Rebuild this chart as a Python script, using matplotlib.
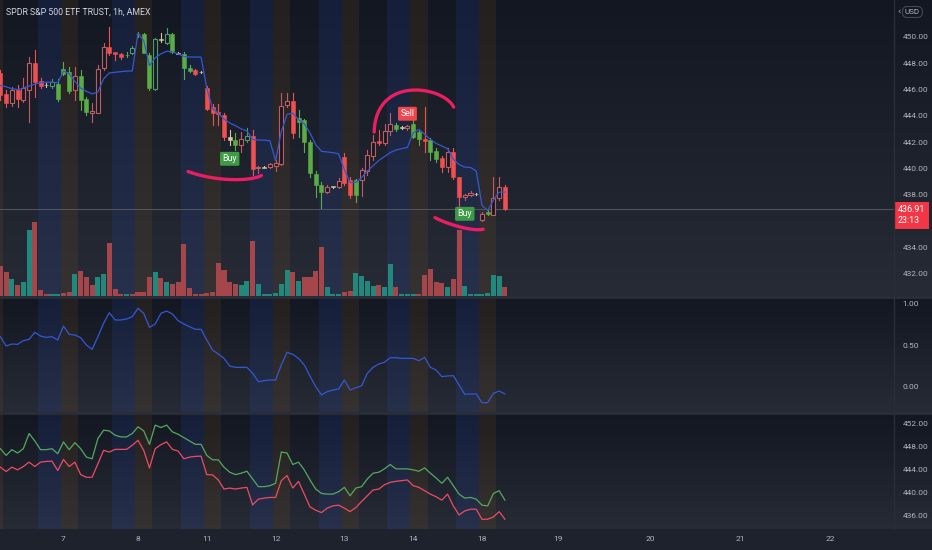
import numpy as np
import matplotlib
matplotlib.use('Agg')
import matplotlib.pyplot as plt
import matplotlib.transforms as mtransforms
from matplotlib.colors import LinearSegmentedColormap
from matplotlib.patches import Rectangle

# ---- data ----
title = 'SPDR S&P 500 ETF TRUST, 1h, AMEX'

opens = [447.22, 445.63, 444.94, 445.95, 445.19, 445.95, 448.03, 446.64, 446.36, 446.26,
         446.41, 447.52, 447.34, 445.95, 446.99, 445.25, 444.23, 444.23, 447.60, 449.24,
         448.82, 448.66, 448.64, 448.74, 450.22, 450.18, 448.61, 446.00, 449.82, 449.54,
         450.18, 448.77, 448.66, 447.65, 447.47, 447.34, 446.13, 444.68, 444.26, 444.05,
         442.41, 442.16, 441.78, 442.16, 442.46, 440.00, 440.10, 440.08, 440.18, 440.33,
         444.81, 445.14, 443.80, 443.67, 442.03, 439.57, 438.74, 438.23, 438.63, 438.61,
         440.84, 439.12, 439.12, 439.12, 439.83, 440.94, 442.05, 441.95, 442.86, 443.29,
         443.11, 443.04, 443.37, 442.79, 442.20, 442.16, 441.34, 440.77, 440.08, 441.27,
         439.32, 437.81, 437.98, 438.08, 436.08, 436.71, 436.46, 437.73, 438.56]
highs = [447.47, 445.95, 446.16, 446.33, 446.84, 448.48, 448.99, 446.86, 446.48, 446.78,
         446.80, 448.10, 447.72, 447.72, 447.47, 445.42, 444.94, 447.85, 449.50, 450.71,
         448.86, 448.76, 448.86, 449.29, 450.38, 450.30, 448.76, 449.88, 450.26, 450.64,
         450.26, 448.84, 448.84, 447.85, 447.55, 447.40, 446.26, 444.89, 444.89, 444.20,
         442.92, 442.70, 442.77, 443.07, 442.92, 440.21, 440.18, 440.40, 440.63, 445.70,
         445.70, 445.70, 444.43, 443.75, 442.16, 439.82, 438.99, 438.74, 438.70, 439.27,
         441.19, 439.37, 439.22, 440.05, 441.40, 442.54, 442.92, 443.37, 444.20, 443.45,
         443.22, 443.30, 443.73, 442.92, 444.68, 442.31, 441.55, 440.95, 441.53, 441.55,
         439.37, 438.06, 438.26, 438.14, 436.71, 436.86, 439.37, 439.37, 438.74]
lows = [445.19, 444.68, 444.74, 444.68, 445.04, 443.55, 445.44, 446.10, 446.18, 446.10,
        445.10, 447.09, 445.70, 445.19, 444.43, 444.05, 443.55, 444.20, 447.47, 448.61,
        448.23, 448.28, 448.48, 448.69, 450.00, 448.76, 445.95, 445.95, 449.62, 449.45,
        448.79, 448.69, 446.77, 447.32, 447.09, 447.24, 444.43, 443.30, 443.30, 442.16,
        441.78, 441.40, 441.27, 442.00, 439.50, 439.63, 440.02, 440.00, 439.80, 440.26,
        444.68, 442.29, 442.41, 441.27, 439.38, 437.83, 436.97, 438.10, 438.55, 438.50,
        438.74, 437.73, 437.47, 437.87, 439.50, 440.64, 441.78, 441.78, 442.54, 442.84,
        442.97, 442.95, 442.29, 441.78, 441.27, 440.64, 440.50, 439.75, 439.75, 439.17,
        436.97, 437.60, 437.90, 438.00, 436.03, 436.46, 436.46, 437.60, 436.84]
closes = [445.57, 444.99, 445.95, 445.25, 446.08, 448.03, 446.58, 446.26, 446.30, 446.58,
          445.25, 447.17, 445.90, 446.99, 445.19, 444.31, 444.36, 447.52, 449.24, 448.74,
          448.72, 448.48, 448.58, 449.16, 450.17, 448.79, 446.08, 449.80, 449.78, 450.18,
          448.86, 448.72, 447.60, 447.40, 447.14, 447.30, 444.49, 444.23, 444.11, 442.36,
          442.16, 441.78, 442.21, 442.46, 439.93, 440.13, 440.06, 440.31, 440.43, 444.74,
          445.14, 442.67, 443.55, 442.03, 439.63, 438.74, 438.23, 438.61, 438.59, 439.07,
          438.91, 437.98, 437.98, 439.88, 441.02, 442.03, 441.92, 442.86, 443.37, 442.97,
          443.07, 443.24, 442.41, 442.21, 442.10, 441.27, 440.71, 440.08, 441.27, 439.32,
          437.81, 437.98, 438.16, 438.04, 436.51, 436.51, 437.73, 438.56, 436.91]
# G green filled, R red filled, h hollow red, t hollow green, b neutral
styles = ('RRhRhhRRbt' 'GGGhGGhhhR' 'RRGtGGGtbt' 'GbGGRbRRRR' 'bGhtRhbhhh'
          'hRGGGGGhbh' 'RRGhhhRhhG' 'bhGGRGGRhR' 'RhhbhGhhR')

volumes = [3.0, 2.4, 1.7, 1.1, 1.4, 6.6, 7.4, 0.6, 0.2, 0.2,
           0.2, 0.3, 0.4, 2.2, 2.5, 1.9, 1.1, 1.9, 2.2, 5.3,
           0.7, 0.2, 0.2, 0.2, 0.4, 0.4, 1.9, 2.4, 1.8, 1.4,
           1.2, 1.4, 5.2, 0.8, 0.2, 0.2, 0.3, 0.4, 3.3, 2.6,
           1.4, 1.2, 1.1, 1.5, 5.5, 1.2, 0.2, 0.2, 0.3, 1.2,
           2.6, 2.4, 1.5, 1.9, 1.9, 2.5, 4.9, 0.9, 0.2, 0.2,
           0.4, 0.5, 2.3, 2.0, 1.5, 1.0, 1.1, 0.9, 3.2, 0.9,
           0.2, 0.2, 0.2, 0.2, 2.1, 2.7, 1.4, 1.3, 0.9, 1.7,
           6.6, 1.0, 0.2, 0.2, 0.2, 0.3, 2.1, 2.0, 0.9]
# t = up volume, r = down volume
vol_dir = ('rrtrttrrrt' 'trrtrrrttr' 'rrtrrrrtrt' 'rrrrrrrrrr' 'rrttrttttt'
           'trtrrrrttt' 'rrttttrttr' 'tttrrrrrtr' 'rtttttttr')

trail = [446.30, 446.20, 446.05, 445.99, 446.10, 446.25, 446.40, 446.50, 446.55, 446.55,
         446.50, 447.40, 447.20, 446.60, 446.10, 445.85, 445.66, 445.80, 446.80, 447.25,
         447.30, 447.35, 447.39, 447.40, 450.25, 449.70, 447.80, 448.40, 448.70, 448.90,
         448.85, 448.70, 448.50, 448.46, 448.46, 448.46, 446.10, 444.55, 444.20, 443.75,
         443.45, 443.25, 443.00, 442.84, 442.20, 442.15, 442.15, 442.10, 440.60, 442.80,
         444.10, 444.20, 443.70, 443.40, 442.70, 441.80, 441.30, 441.25, 441.20, 441.10,
         439.90, 438.93, 438.93, 439.30, 439.80, 440.20, 440.60, 440.90, 441.20, 441.40,
         441.50, 441.60, 442.70, 442.95, 442.60, 442.20, 441.90, 441.70, 441.50, 440.70,
         440.30, 440.10, 440.07, 439.80, 437.20, 436.80, 437.60, 438.20, 438.20]

osc = [0.599, 0.488, 0.512, 0.508, 0.552, 0.567, 0.651, 0.607, 0.591, 0.599,
       0.560, 0.726, 0.627, 0.619, 0.587, 0.500, 0.448, 0.599, 0.758, 0.885,
       0.798, 0.798, 0.810, 0.837, 0.937, 0.877, 0.710, 0.750, 0.877, 0.905,
       0.869, 0.790, 0.750, 0.718, 0.687, 0.687, 0.560, 0.440, 0.393, 0.341,
       0.250, 0.234, 0.234, 0.234, 0.163, 0.063, 0.075, 0.083, 0.083, 0.262,
       0.413, 0.389, 0.341, 0.262, 0.131, 0.004, -0.095, -0.056, -0.036, -0.024,
       0.083, -0.036, -0.008, 0.012, 0.163, 0.234, 0.274, 0.294, 0.349, 0.349,
       0.341, 0.341, 0.341, 0.313, 0.353, 0.234, 0.202, 0.123, 0.131, 0.135,
       0.024, -0.087, -0.083, -0.083, -0.187, -0.187, -0.075, -0.048, -0.083]

upper = [447.59, 446.43, 447.42, 446.84, 447.59, 450.20, 448.93, 447.42, 447.42, 447.59,
         446.72, 448.75, 447.42, 448.63, 447.59, 446.14, 445.85, 449.33, 450.78, 450.66,
         449.91, 449.62, 449.62, 450.20, 451.36, 450.66, 448.34, 451.65, 451.24, 451.65,
         450.49, 450.08, 449.50, 448.92, 448.34, 448.34, 446.43, 445.67, 445.67, 444.40,
         443.53, 443.12, 443.36, 443.70, 442.37, 441.04, 441.04, 441.21, 441.62, 447.01,
         446.84, 444.86, 445.27, 443.94, 442.20, 440.63, 439.88, 439.76, 439.76, 440.17,
         440.92, 439.47, 440.80, 441.04, 442.37, 443.36, 443.53, 444.11, 444.86, 444.11,
         444.11, 444.11, 443.94, 443.70, 444.28, 443.36, 442.54, 441.62, 442.66, 441.21,
         439.76, 439.06, 439.18, 438.89, 437.85, 437.73, 439.88, 440.34, 438.72]
lower = [444.40, 443.65, 444.40, 443.94, 444.52, 445.27, 444.52, 445.27, 445.39, 445.44,
         443.82, 445.73, 444.52, 445.27, 443.12, 442.66, 442.66, 444.98, 447.30, 447.01,
         447.47, 447.47, 447.47, 448.17, 449.04, 447.30, 444.28, 447.59, 448.29, 448.75,
         447.47, 447.18, 445.85, 446.14, 446.26, 446.31, 443.12, 443.07, 442.20, 440.63,
         440.80, 440.63, 440.80, 440.92, 437.90, 438.89, 439.06, 439.18, 439.18, 442.08,
         442.95, 440.80, 441.96, 439.76, 437.56, 436.98, 436.57, 437.33, 437.73, 437.85,
         437.33, 436.74, 437.44, 438.48, 439.47, 440.46, 440.63, 441.38, 441.79, 441.96,
         442.08, 442.20, 441.21, 440.92, 440.34, 439.76, 439.30, 438.72, 439.76, 437.73,
         436.17, 436.86, 437.15, 437.15, 435.42, 435.42, 435.82, 436.74, 435.42]

# first bar of each session day; first one is off-screen (Apr 6)
day_starts = [-2, 11, 24, 36, 48, 60, 72, 84]
day_ticks = [11, 24, 36, 48, 60, 72, 84, 97.3, 113.3, 129, 144.7]
day_labels = ['7', '8', '11', '12', '13', '14', '18', '19', '20', '21', '22']

price_ticks = [432, 434, 438, 440, 442, 444, 446, 448, 450]  # 436 hidden by last price tag
osc_ticks = [0, 0.5, 1.0]
band_ticks = [436, 440, 444, 448, 452]

buy_bars = [40, 81]
sell_bars = [71]
last_price = 436.91

# hand drawn arcs (bar, price)
arc_buy1 = [(32.7, 439.76), (36.6, 439.35), (40.0, 439.12), (43.5, 439.23), (45.5, 439.46)]
arc_sell = [(65.2, 442.79), (66.2, 444.43), (68.5, 445.57), (71.5, 446.0), (74.9, 445.82),
            (77.3, 445.32), (79.1, 444.68)]
arc_buy2 = [(75.8, 436.26), (77.9, 435.88), (80.2, 435.53), (82.5, 435.38), (84.2, 435.38)]

# ---- styling ----
W, H = 932, 550
PLOT_W = 894
panes = [(0, 296), (298, 412), (414, 529)]
TXT = '#b2b5be'
GREEN = '#5aad46'
RED = '#f0504f'
HOLLOW_R = '#bd5d62'
HOLLOW_G = '#4f9a66'
NEUTRAL = '#d6c7a1'
FONT = 'Roboto'

fig = plt.figure(figsize=(W / 100, H / 100), dpi=100, facecolor='#1e222d')

grad = LinearSegmentedColormap.from_list('bg', ['#131722', '#272b36'])


def rect(top, bottom, right=PLOT_W):
    return [0, 1 - bottom / H, right / W, (bottom - top) / H]


# gradient backgrounds for each pane (incl. price scale)
for top, bottom in panes:
    b = fig.add_axes(rect(top, bottom, W))
    b.imshow(np.linspace(0, 1, 256)[:, None], aspect='auto', cmap=grad,
             extent=[0, 1, 0, 1])
    b.set_axis_off()

axes = []
for top, bottom in panes:
    a = fig.add_axes(rect(top, bottom))
    a.set_facecolor('none')
    for s in a.spines.values():
        s.set_visible(False)
    a.set_xlim(-0.07, 155.87)
    a.yaxis.tick_right()
    a.tick_params(axis='y', length=0, pad=6, labelsize=6, labelcolor=TXT)
    a.tick_params(axis='x', length=0)
    axes.append(a)
ax, ax2, ax3 = axes

# session stripes
for a in axes:
    for d in day_starts:
        a.axvspan(d - 4.5, d - 0.5, color='#2962ff', alpha=0.11, lw=0, zorder=0)
        a.axvspan(d - 0.5, d + 2.5, color='#ff9800', alpha=0.07, lw=0, zorder=0)

# ---- main pane ----
ax.set_ylim(430.31, 452.79)
ax.set_yticks(price_ticks)
ax.set_yticklabels([f'{v:.2f}' for v in price_ticks], family=FONT)
ax.set_xticks([])

vax = fig.add_axes(rect(*panes[0]), sharex=ax)
vax.set_facecolor('none')
vax.set_axis_off()
vax.set_ylim(0, 29.6)
x = np.arange(len(volumes))
vcol = ['#22877c' if d == 't' else '#a5464b' for d in vol_dir]
vax.bar(x, volumes, width=0.88, color=vcol, zorder=1)

ax.axhline(last_price, color='#55575f', lw=0.7, zorder=1)

cmap_style = {'G': GREEN, 'R': RED, 'h': HOLLOW_R, 't': HOLLOW_G, 'b': NEUTRAL}
bw = 0.7
for k, (o, h, l, c, s) in enumerate(zip(opens, highs, lows, closes, styles)):
    col = cmap_style[s]
    lo, hi = min(o, c), max(o, c)
    hi = max(hi, lo + 0.05)
    ax.plot([k, k], [hi, h], color=col, lw=0.8, zorder=3)
    ax.plot([k, k], [l, lo], color=col, lw=0.8, zorder=3)
    if s in 'ht':
        ax.add_patch(Rectangle((k - bw / 2, lo), bw, hi - lo, fc='#161a25',
                               ec=col, lw=0.8, zorder=4))
    else:
        ax.add_patch(Rectangle((k - bw / 2, lo), bw, hi - lo, fc=col,
                               ec=col, lw=0.4, zorder=4))

ax.plot(np.arange(len(trail)), trail, color='#3358d4', lw=0.9, zorder=5)


def draw_arc(pts):
    pts = np.array(pts)
    t = np.linspace(0, 1, len(pts))
    tt = np.linspace(0, 1, 100)
    deg = min(3, len(pts) - 1)
    xs = np.polyval(np.polyfit(t, pts[:, 0], deg), tt)
    ys = np.polyval(np.polyfit(t, pts[:, 1], deg), tt)
    ax.plot(xs, ys, color='#e91e63', lw=2.4, solid_capstyle='round', zorder=6)


for arc in (arc_buy1, arc_sell, arc_buy2):
    draw_arc(arc)

for k in buy_bars:
    ax.text(k, lows[k] - 1.05, 'Buy', ha='center', va='center', color='white',
            fontsize=6.3, family=FONT, zorder=7,
            bbox=dict(boxstyle='round,pad=0.28,rounding_size=0.15', fc='#3d9b46', ec='none'))
for k in sell_bars:
    ax.text(k, highs[k] + 0.85, 'Sell', ha='center', va='center', color='white',
            fontsize=6.3, family=FONT, zorder=7,
            bbox=dict(boxstyle='round,pad=0.28,rounding_size=0.15', fc='#f0464f', ec='none'))

tr = mtransforms.blended_transform_factory(ax.transAxes, ax.transData)
ax.text(1.004, last_price - 0.48, f'{last_price:.2f}\n23:13', transform=tr,
        ha='left', va='center', color='white', fontsize=6.4, family=FONT,
        linespacing=1.3, clip_on=False, zorder=20,
        bbox=dict(boxstyle='square,pad=0.4', fc='#f23645', ec='none'))

ax.text(0.0065, 0.96, title, transform=ax.transAxes, color='#d1d4dc',
        fontsize=6.3, family=FONT, ha='left', va='center')

fig.text(0.979, 1 - 12 / H, 'USD', color=TXT, fontsize=5.8, family=FONT,
         ha='center', va='center',
         bbox=dict(boxstyle='round,pad=0.3,rounding_size=0.6', fc='none', ec='#4a4e59', lw=0.7))
fig.text(0.965, 1 - 12 / H, '\u2039', color=TXT, fontsize=6, ha='center', va='center')

# ---- oscillator pane ----
ax2.plot(np.arange(len(osc)), osc, color='#3358d4', lw=0.9, zorder=5)
ax2.set_ylim(-0.298, 1.06)
ax2.set_yticks(osc_ticks)
ax2.set_yticklabels([f'{v:.2f}' for v in osc_ticks], family=FONT)
ax2.set_xticks([])

# ---- band pane ----
ax3.plot(np.arange(len(upper)), upper, color='#55a860', lw=0.9, zorder=5)
ax3.plot(np.arange(len(lower)), lower, color='#ee4b63', lw=0.9, zorder=5)
ax3.set_ylim(433.74, 453.57)
ax3.set_yticks(band_ticks)
ax3.set_yticklabels([f'{v:.2f}' for v in band_ticks], family=FONT)
ax3.set_xticks(day_ticks)
ax3.set_xticklabels(day_labels, family=FONT)
ax3.tick_params(axis='x', pad=5, labelsize=6, labelcolor=TXT)

# separators and scale border
for yb in (297, 413):
    fig.add_artist(plt.Line2D([0, 1], [1 - yb / H] * 2, color='#2a2e39', lw=2))
fig.add_artist(plt.Line2D([PLOT_W / W] * 2, [1 - 529 / H, 1], color='#2a2e39', lw=1))

fig.savefig('out.png', dpi=100, facecolor=fig.get_facecolor())
